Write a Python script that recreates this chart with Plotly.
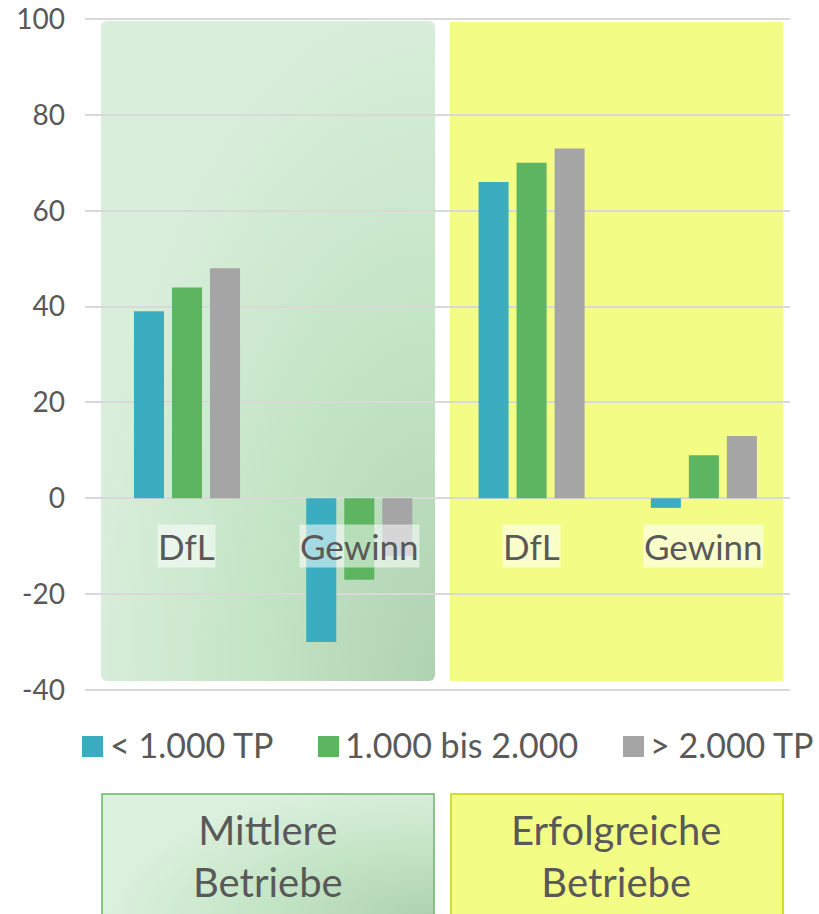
import base64
import plotly.graph_objects as go

# ---- data ----
categories = ["DfL", "Gewinn", "DfL", "Gewinn"]
series_names = ["< 1.000 TP", "1.000 bis 2.000", "> 2.000 TP"]
series_colors = ["#3AADC0", "#5DB562", "#A5A5A5"]
values_small = [39, -30, 66, -2]     # < 1.000 TP
values_mid = [44, -17, 70, 9]        # 1.000 bis 2.000
values_large = [48, -12, 73, 13]     # > 2.000 TP
series_values = [values_small, values_mid, values_large]
group_labels = ["Mittlere<br>Betriebe", "Erfolgreiche<br>Betriebe"]
y_tick_vals = [-40, -20, 0, 20, 40, 60, 80, 100]
y_tick_text = ["-40", "-20", "0", "20", "40", "60", "80", "100"]

W, H = 819, 914
L, R, T, B = 85, 29, 17, 222
PW, PH = W - L - R, H - T - B
Y_RANGE = [-40.42, 100.42]
TEXT = "#595959"
FONT = "Lato"


def px(xp):
    return (xp - L) / PW


def py(yp):
    return (H - B - yp) / PH


def svg_uri(svg):
    return "data:image/svg+xml;base64," + base64.b64encode(svg.encode()).decode()


green_panel = (
    '<svg xmlns="http://www.w3.org/2000/svg" width="334" height="660" viewBox="0 0 334 660" '
    'preserveAspectRatio="none"><defs><radialGradient id="g" cx="1" cy="1" r="1.05">'
    '<stop offset="0" stop-color="#AFD2B1"/><stop offset="0.5" stop-color="#C3E4C5"/>'
    '<stop offset="1" stop-color="#DAEEDC"/></radialGradient></defs>'
    '<rect x="0" y="0" width="334" height="660" rx="6" ry="6" fill="url(#g)"/></svg>'
)
yellow_panel = (
    '<svg xmlns="http://www.w3.org/2000/svg" width="333" height="659" viewBox="0 0 333 659" '
    'preserveAspectRatio="none"><rect x="0" y="0" width="333" height="659" fill="#F3FD86"/></svg>'
)
green_box = (
    '<svg xmlns="http://www.w3.org/2000/svg" width="334" height="130" viewBox="0 0 334 130" '
    'preserveAspectRatio="none"><defs><radialGradient id="g" cx="1" cy="0.9" r="1.0">'
    '<stop offset="0" stop-color="#ADD1B0"/><stop offset="0.5" stop-color="#C3E4C5"/>'
    '<stop offset="1" stop-color="#DCF0DE"/></radialGradient></defs>'
    '<rect x="1" y="1" width="332" height="140" fill="url(#g)" stroke="#63B868" stroke-width="1.5"/></svg>'
)
yellow_box = (
    '<svg xmlns="http://www.w3.org/2000/svg" width="334" height="130" viewBox="0 0 334 130" '
    'preserveAspectRatio="none">'
    '<rect x="1" y="1" width="332" height="140" fill="#F3FD86" stroke="#C6D200" stroke-width="1.5"/></svg>'
)

fig = go.Figure()
for name, vals, col in zip(series_names, series_values, series_colors):
    fig.add_trace(go.Bar(
        x=list(range(len(categories))), y=vals, name=name,
        marker=dict(color=col, line=dict(width=0)), showlegend=False,
        hoverinfo="y",
    ))

images = [
    dict(source=svg_uri(green_panel), xref="paper", yref="paper",
         x=px(101), y=py(21), sizex=334 / PW, sizey=660 / PH,
         xanchor="left", yanchor="top", sizing="stretch", layer="below"),
    dict(source=svg_uri(yellow_panel), xref="paper", yref="paper",
         x=px(450), y=py(22), sizex=333 / PW, sizey=659 / PH,
         xanchor="left", yanchor="top", sizing="stretch", layer="below"),
    dict(source=svg_uri(green_box), xref="paper", yref="paper",
         x=px(101), y=py(793), sizex=334 / PW, sizey=130 / PH,
         xanchor="left", yanchor="top", sizing="stretch", layer="above"),
    dict(source=svg_uri(yellow_box), xref="paper", yref="paper",
         x=px(450), y=py(793), sizex=334 / PW, sizey=130 / PH,
         xanchor="left", yanchor="top", sizing="stretch", layer="above"),
]

annotations = []
for i, c in enumerate(categories):
    annotations.append(dict(
        x=i, y=-10, xref="x", yref="y", text=c, showarrow=False,
        font=dict(family=FONT, size=35, color=TEXT),
        bgcolor="rgba(255,255,255,0.55)", borderpad=0,
        xanchor="center", yanchor="middle",
    ))

# manual legend
legend_sq_x = [82, 318, 623]
legend_tx_x = [108, 343, 648]
shapes = []
for i, (name, col) in enumerate(zip(series_names, series_colors)):
    shapes.append(dict(type="rect", xref="paper", yref="paper",
                       x0=px(legend_sq_x[i]), x1=px(legend_sq_x[i] + 21),
                       y0=py(757), y1=py(736), fillcolor=col, line=dict(width=0)))
    annotations.append(dict(
        x=px(legend_tx_x[i]), y=py(745), xref="paper", yref="paper", text=name,
        showarrow=False, xanchor="left", yanchor="middle",
        font=dict(family=FONT, size=34, color=TEXT),
    ))

for lbl, cx in zip(group_labels, [268, 616]):
    annotations.append(dict(
        x=px(cx), y=py(856), xref="paper", yref="paper", text=lbl,
        showarrow=False, xanchor="center", yanchor="middle",
        font=dict(family=FONT, size=40, color=TEXT),
    ))

fig.update_layout(
    width=W, height=H, autosize=False,
    margin=dict(l=L, r=R, t=T, b=B, pad=0, autoexpand=False),
    paper_bgcolor="white", plot_bgcolor="rgba(0,0,0,0)",
    barmode="group", bargap=0.338, bargroupgap=0.21,
    font=dict(family=FONT, color=TEXT),
    xaxis=dict(range=[-0.592, 3.5], showticklabels=False, showgrid=False,
               zeroline=False, showline=False, ticks="", fixedrange=True,
               automargin=False),
    yaxis=dict(range=Y_RANGE, tickvals=y_tick_vals, ticktext=y_tick_text,
               showgrid=True, gridcolor="#D9D9D9", gridwidth=2,
               zeroline=True, zerolinecolor="#D9D9D9", zerolinewidth=2,
               showline=False, ticks="", ticklabelstandoff=19, automargin=False,
               ticklabeloverflow="allow",
               tickfont=dict(family=FONT, size=28, color=TEXT), fixedrange=True),
    images=images, shapes=shapes, annotations=annotations,
    showlegend=False,
)

fig.write_html("out.html", config={"displayModeBar": False},
               post_script="document.body.style.margin='0';")
